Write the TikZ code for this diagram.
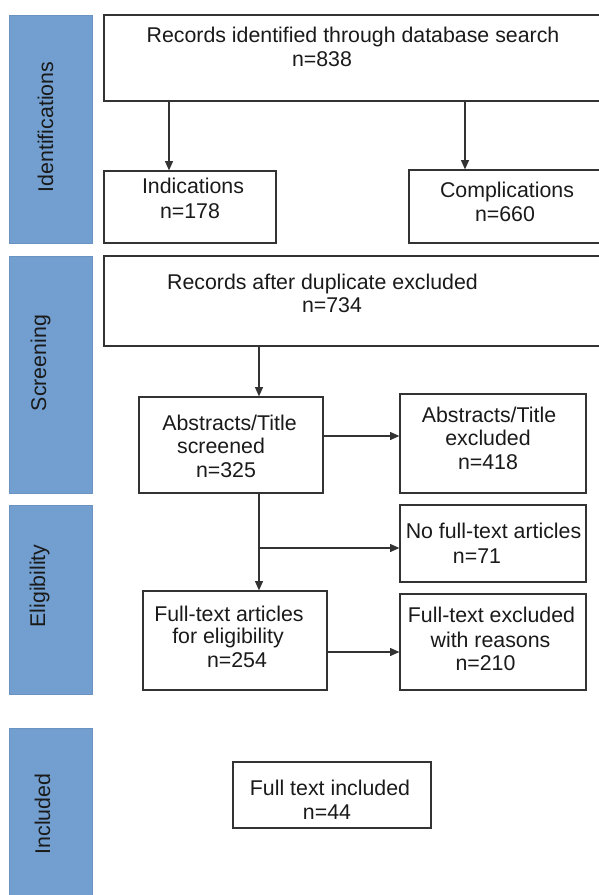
\documentclass[tikz,border=0pt]{standalone}
\usepackage{fontspec}
\setmainfont{Liberation Sans}
\usetikzlibrary{arrows.meta,fit}
\definecolor{side}{HTML}{729FCF}
\definecolor{sideline}{HTML}{6A93C2}
\definecolor{boxline}{HTML}{333333}
\definecolor{ink}{HTML}{1A1A1A}
\begin{document}
\begin{tikzpicture}[x=0.75pt,y=-0.75pt,
  box/.style={draw=boxline,line width=0.9pt,inner sep=0pt,fill=white},
  sidebar/.style={fill=side,draw=sideline,line width=0.5pt,inner sep=0pt},
  txt/.style={font=\fontsize{16}{18}\selectfont,anchor=base,inner sep=0pt,text=ink},
  arr/.style={draw=boxline,line width=0.9pt,-{Triangle[length=7pt,width=6pt]}}]
\useasboundingbox (0,0) rectangle (599,895);
\clip (0,0) rectangle (599,895);
% sidebars
\node[sidebar,fit={(9,15) (92,243)}] (s1) {};
\node[sidebar,fit={(9,256) (92,493)}] (s2) {};
\node[sidebar,fit={(9,505) (92,694)}] (s3) {};
\node[sidebar,fit={(9,728) (92,905)}] (s4) {};
\node[txt,rotate=90] (l1) at (53,127) {Identifications};
\node[txt,rotate=90] (l2) at (46,363) {Screening};
\node[txt,rotate=90] (l3) at (45,586) {Eligibility};
\node[txt,rotate=90] (l4) at (50,814) {Included};
% boxes
\node[box,fit={(104,15) (610,101)}] (top) {};
\node[box,fit={(104,171) (276,243)}] (ind) {};
\node[box,fit={(409,170) (610,243)}] (comp) {};
\node[box,fit={(104,256) (610,346)}] (rec) {};
\node[box,fit={(139,397) (323,493)}] (scr) {};
\node[box,fit={(400,394) (586,493)}] (absx) {};
\node[box,fit={(400,505) (586,582)}] (noft) {};
\node[box,fit={(143,591) (327,690)}] (fta) {};
\node[box,fit={(400,594) (586,690)}] (ftx) {};
\node[box,fit={(233,762) (431,828)}] (inc) {};
% texts
\node[txt] (t1a) at (353,43) {Records identified through database search};
\node[txt] (t1b) at (322,67) {n=838};
\node[txt] (t2a) at (193,193) {Indications};
\node[txt] (t2b) at (190,218) {n=178};
\node[txt] (t3a) at (507,197) {Complications};
\node[txt] (t3b) at (505,221) {n=660};
\node[txt] (t4a) at (322.5,289) {Records after duplicate excluded};
\node[txt] (t4b) at (332,312) {n=734};
\node[txt] (t5a) at (229.5,430) {Abstracts/Title};
\node[txt] (t5b) at (221,453) {screened};
\node[txt] (t5c) at (226,477) {n=325};
\node[txt] (t6a) at (489,422) {Abstracts/Title};
\node[txt] (t6b) at (488,445) {excluded};
\node[txt] (t6c) at (488,469) {n=418};
\node[txt] (t7a) at (493.5,538) {No full-text articles};
\node[txt] (t7b) at (477,563) {n=71};
\node[txt] (t8a) at (229,621) {Full-text articles};
\node[txt] (t8b) at (228,643) {for eligibility};
\node[txt] (t8c) at (237,667) {n=254};
\node[txt] (t9a) at (491.5,622) {Full-text excluded};
\node[txt] (t9b) at (490.5,647) {with reasons};
\node[txt] (t9c) at (485.5,670) {n=210};
\node[txt] (t10a) at (330,795) {Full text included};
\node[txt] (t10b) at (327,819) {n=44};
% connectors
\coordinate (c1) at (169,0);
\coordinate (c2) at (465,0);
\coordinate (c3) at (259,0);
\coordinate (c4) at (0,436);
\coordinate (c5) at (0,652);
\coordinate (br) at (259,548);
\draw[arr] (top.south -| c1) -- (ind.north -| c1);
\draw[arr] (top.south -| c2) -- (comp.north -| c2);
\draw[arr] (rec.south -| c3) -- (scr.north -| c3);
\draw[arr] (scr.east |- c4) -- (absx.west |- c4);
\draw[arr] (scr.south -| c3) -- (fta.north -| c3);
\draw[arr] (br) -- (noft.west |- br);
\draw[arr] (fta.east |- c5) -- (ftx.west |- c5);
\end{tikzpicture}
\end{document}
